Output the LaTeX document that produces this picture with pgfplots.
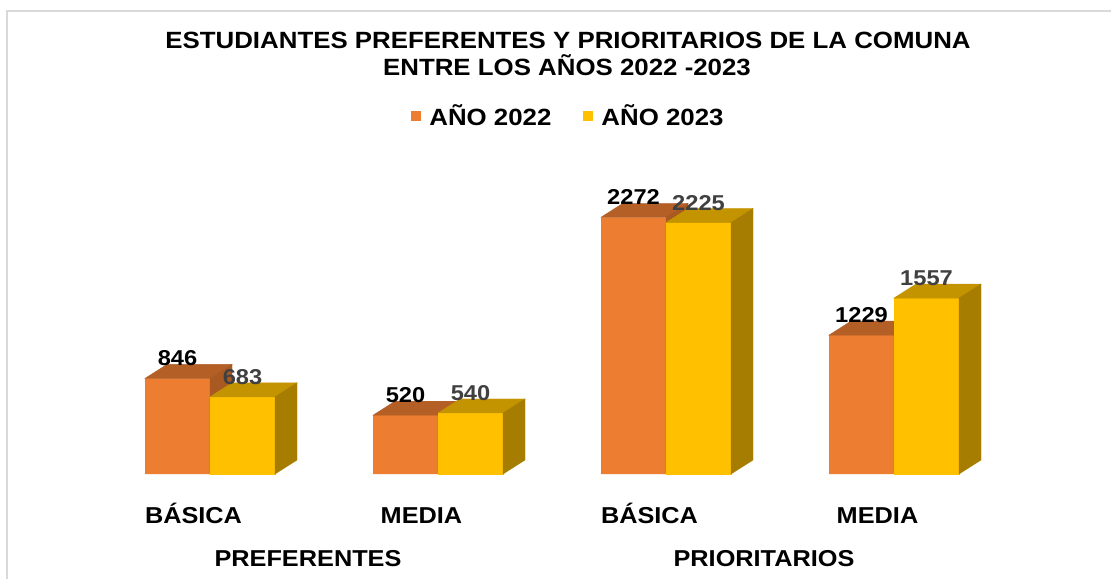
\documentclass[border=0pt]{standalone}
\usepackage{fontspec}
\setmainfont{Liberation Sans}[FakeStretch=1.1]
\usepackage{pgfplots}
\pgfplotsset{compat=1.18}
\definecolor{oF}{HTML}{ED7D31}
\definecolor{oT}{HTML}{B45F26}
\definecolor{oS}{HTML}{A85A22}
\definecolor{yF}{HTML}{FFC000}
\definecolor{yT}{HTML}{C49400}
\definecolor{yS}{HTML}{A67D00}
\definecolor{lblgray}{HTML}{404040}
\definecolor{frame}{HTML}{D9D9D9}
\pgfdeclareplotmark{nothing}{}
\newcommand\fs[1]{\fontsize{#1}{#1}\selectfont\bfseries}
\begin{document}
\begin{tikzpicture}
\path[use as bounding box] (0,0) rectangle (1111pt,579pt);
\fill[white] (0,0) rectangle (1111pt,579pt);
\draw[frame, line width=1.5pt] (7pt,0pt) -- (7pt,568pt) -- (1111pt,568pt);
\node[anchor=base, font=\fs{23.5}] at (568pt,530pt) {ESTUDIANTES PREFERENTES Y PRIORITARIOS DE LA COMUNA};
\node[anchor=base, font=\fs{23.5}] at (567pt,503pt) {ENTRE LOS AÑOS 2022 -2023};
\begin{axis}[
  at={(27.6pt,105pt)}, anchor=south west,
  x=228pt, y=0.113pt,
  xmin=-0.8, xmax=3.8, ymin=0, ymax=2700,
  clip=false, clip marker paths=true,
  axis line style={draw=none},
  ytick=\empty,
  xtick={0,1,2,3},
  xticklabels={BÁSICA,MEDIA,BÁSICA,MEDIA},
  major tick length=0pt,
  xticklabel style={font=\fs{23}, anchor=base, yshift=-49.5pt, xshift=-16.5pt},
  legend columns=2,
  legend style={draw=none, fill=none, at={(0.5157,1.1734)}, anchor=center,
    font=\fs{23.5},
    /tikz/every odd column/.append style={column sep=6pt},
    /tikz/every even column/.append style={column sep=30pt},
    cells={anchor=west}},
  legend image code/.code={\fill[#1] (0pt,-5pt) rectangle (10pt,5pt);},
]
% 2022 front
\addplot[ybar, bar width=65pt, bar shift=-32.5pt, fill=oF, draw=none]
  coordinates {(0,846) (1,520) (2,2272) (3,1229)};
\addlegendentry{AÑO 2022}
% 2022 top and side
\addplot[forget plot, only marks, mark=nothing, scatter,
  visualization depends on={rawy \as \vv},
  scatter/@pre marker code/.code={%
    \pgfmathsetlengthmacro\hh{\vv*0.113pt}%
    \fill[oT] (-65pt,0pt) -- (-43pt,14pt) -- (22pt,14pt) -- (0pt,0pt) -- cycle;
    \fill[oS] (0pt,0pt) -- (22pt,14pt) -- (22pt,14pt-\hh) -- (0pt,-\hh) -- cycle;
  },
  scatter/@post marker code/.code={}]
  coordinates {(0,846) (1,520) (2,2272) (3,1229)};
% 2023 front
\addplot[ybar, bar width=65pt, bar shift=32.5pt, fill=yF, draw=none]
  coordinates {(0,683) (1,540) (2,2225) (3,1557)};
\addlegendentry{AÑO 2023}
% 2023 front (again, in mark order), top and side
\addplot[forget plot, only marks, mark=nothing, scatter,
  visualization depends on={rawy \as \vv},
  scatter/@pre marker code/.code={%
    \pgfmathsetlengthmacro\hh{\vv*0.113pt}%
    \fill[yF] (0pt,0pt) rectangle (65pt,-\hh);
    \fill[yT] (0pt,0pt) -- (22pt,14pt) -- (87pt,14pt) -- (65pt,0pt) -- cycle;
    \fill[yS] (65pt,0pt) -- (87pt,14pt) -- (87pt,14pt-\hh) -- (65pt,-\hh) -- cycle;
  },
  scatter/@post marker code/.code={}]
  coordinates {(0,683) (1,540) (2,2225) (3,1557)};
% labels
\addplot[forget plot, only marks, mark=nothing, point meta=explicit symbolic,
  nodes near coords, nodes near coords align={anchor=base},
  every node near coord/.append style={font=\fs{21.5}, text=black, anchor=base, xshift=-32.5pt, yshift=12.5pt}]
  coordinates {(0,846)[846] (1,520)[520] (2,2272)[2272] (3,1229)[1229]};
\addplot[forget plot, only marks, mark=nothing, point meta=explicit symbolic,
  nodes near coords, nodes near coords align={anchor=base},
  every node near coord/.append style={font=\fs{21.5}, text=lblgray, anchor=base, xshift=32.5pt, yshift=12.5pt}]
  coordinates {(0,683)[683] (1,540)[540] (2,2225)[2225] (3,1557)[1557]};
\node[anchor=base, font=\fs{23}] at (axis cs:0.5,0) [yshift=-92pt, xshift=-16pt] {PREFERENTES};
\node[anchor=base, font=\fs{23}] at (axis cs:2.5,0) [yshift=-92pt, xshift=-16pt] {PRIORITARIOS};
\end{axis}
\end{tikzpicture}
\end{document}
